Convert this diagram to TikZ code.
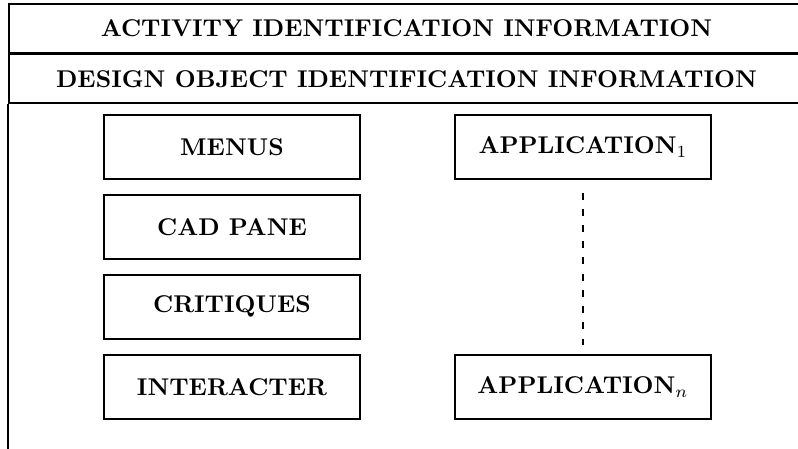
\documentclass[tikz,border=0pt]{standalone}
\usepackage{amsmath}
\usepackage{tikz}
\usetikzlibrary{positioning}

\begin{document}
\begin{tikzpicture}[
    x=0.9pt, y=0.9pt,
    font=\bfseries,
    every node/.style={inner sep=2pt},
    band/.style={draw=black, line width=0.8pt,
                 minimum width=328.1pt, minimum height=20.2pt},
    edge/.style={draw=black, line width=0.8pt},
    part/.style={draw=black, line width=0.8pt,
                 minimum width=105.8pt, minimum height=26.6pt},
    gap/.style={draw=black, line width=0.8pt,
                dash pattern=on 2.9pt off 3.8pt,
                shorten <=5.1pt, shorten >=3.6pt}
  ]

  \useasboundingbox (0,0) rectangle (366,-205.5);
  \clip (0,0) rectangle (366,-205.5);

  % ===== HEADER BANDS =====
  \node[band, anchor=north west] (activity) at (3.7,-1.2)
    {ACTIVITY IDENTIFICATION INFORMATION};
  \node[band, below=0pt of activity] (design)
    {DESIGN OBJECT IDENTIFICATION INFORMATION};

  % body of the frame (runs off the page)
  \draw[edge] (design.south west) -- ++(0,-170);
  \draw[edge] (design.south east) -- ++(0,-170);

  % ===== LEFT COLUMN =====
  \node[part] (menus) at (106.4,-67.4) {MENUS};
  \node[part, below=5.6pt of menus]     (cadpane)    {CAD PANE};
  \node[part, below=5.6pt of cadpane]   (critiques)  {CRITIQUES};
  \node[part, below=5.6pt of critiques] (interacter) {INTERACTER};

  % ===== RIGHT COLUMN =====
  \node[part] (app1) at (267.4,-67.4) {APPLICATION$_1$};
  \node[part] (appn) at (app1 |- interacter) {APPLICATION$_n$};
  \draw[gap] (app1.south) -- (appn.north);

\end{tikzpicture}
\end{document}
